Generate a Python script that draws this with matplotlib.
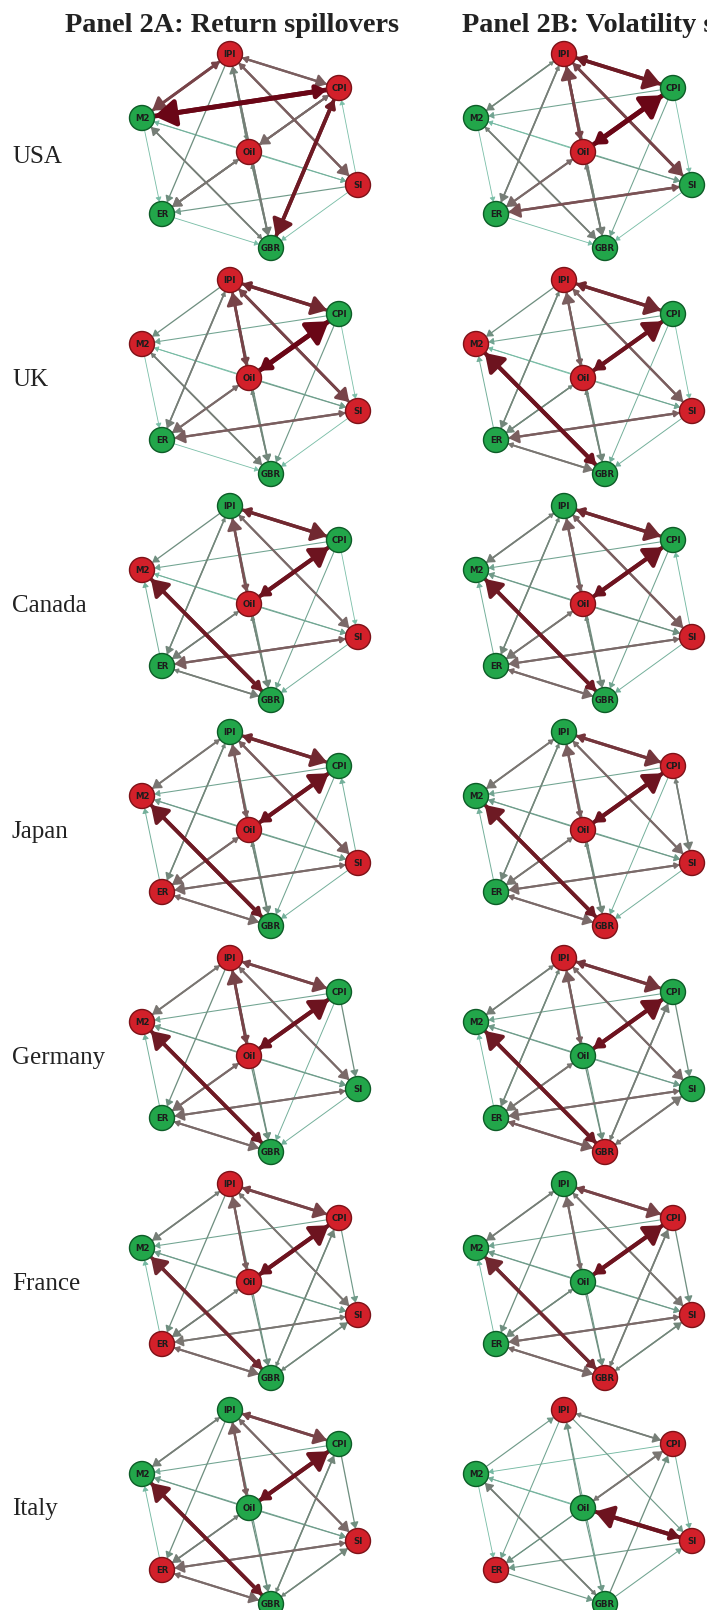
import numpy as np
import matplotlib
matplotlib.use('Agg')
import matplotlib.pyplot as plt
from matplotlib.patches import Circle, FancyArrowPatch
from matplotlib.colors import LinearSegmentedColormap

countries = ['USA', 'UK', 'Canada', 'Japan', 'Germany', 'France', 'Italy']
nodes = ['IPI', 'CPI', 'M2', 'Oil', 'SI', 'ER', 'GBR']
pairs = [('IPI', 'CPI'), ('IPI', 'M2'), ('IPI', 'Oil'), ('IPI', 'SI'), ('IPI', 'ER'),
         ('IPI', 'GBR'), ('CPI', 'M2'), ('CPI', 'Oil'), ('CPI', 'SI'), ('CPI', 'ER'),
         ('CPI', 'GBR'), ('M2', 'Oil'), ('M2', 'SI'), ('M2', 'ER'), ('M2', 'GBR'),
         ('Oil', 'SI'), ('Oil', 'ER'), ('Oil', 'GBR'), ('SI', 'ER'), ('SI', 'GBR'),
         ('ER', 'GBR')]

# node colour per variable (order as in nodes): r = net transmitter, g = net receiver
ret_nodes = {'USA': 'rrgrrgg', 'UK': 'rgrrrgg', 'Canada': 'ggrrrgg', 'Japan': 'ggrrrrg',
             'Germany': 'rgrrggg', 'France': 'rrgrrrg', 'Italy': 'ggggrrg'}
vol_nodes = {'USA': 'rggrggg', 'UK': 'rgrrrgg', 'Canada': 'gggrrgg', 'Japan': 'grgrrgr',
             'Germany': 'rgggggr', 'France': 'grggrgr', 'Italy': 'rrggrrg'}

# pairwise spillover strength, order as in pairs; sign gives direction (+ first -> second)
ret_edges = {
    'USA':     [0.6, 0.7, -0.4, 0.6, 0.35, 0.45, 1.0, 0.55, -0.1, 0.5, 0.85,
                -0.15, 0.2, 0.12, -0.45, 0.15, 0.5, 0.4, 0.3, 0.12, 0.12],
    'UK':      [0.8, 0.35, -0.7, 0.7, 0.45, 0.35, 0.25, -1.0, 0.1, 0.2, 0.3,
                -0.12, 0.15, 0.1, 0.45, 0.3, 0.55, 0.4, 0.6, 0.12, 0.1],
    'Canada':  [0.8, 0.35, -0.65, 0.55, 0.4, 0.35, 0.25, -0.9, 0.1, 0.2, 0.25,
                -0.15, 0.2, -0.2, -0.85, 0.25, 0.45, 0.4, 0.6, 0.2, 0.45],
    'Japan':   [0.8, 0.5, -0.6, 0.6, 0.4, 0.35, 0.25, -0.9, -0.2, 0.2, 0.25,
                -0.3, 0.2, -0.2, -0.85, 0.3, 0.55, 0.4, 0.55, 0.2, 0.55],
    'Germany': [0.7, 0.5, -0.7, 0.55, 0.35, 0.35, 0.25, -0.9, 0.35, 0.2, 0.2,
                -0.3, 0.2, -0.2, -0.85, 0.3, 0.55, 0.35, 0.55, 0.2, 0.55],
    'France':  [0.7, 0.45, -0.6, 0.5, 0.35, 0.3, 0.25, -0.9, 0.3, 0.2, -0.4,
                -0.3, 0.2, -0.15, -0.8, 0.3, 0.45, 0.35, 0.5, -0.4, 0.55],
    'Italy':   [0.7, 0.45, -0.6, 0.55, 0.35, 0.3, 0.25, -0.9, 0.35, 0.2, -0.4,
                -0.3, 0.2, -0.15, -0.85, 0.3, 0.45, 0.35, 0.55, -0.4, 0.55],
}
vol_edges = {
    'USA':     [0.85, 0.4, -0.7, 0.7, 0.45, 0.4, 0.25, -1.0, 0.1, 0.2, 0.25,
                -0.12, 0.15, 0.1, 0.45, 0.3, 0.55, 0.45, 0.65, 0.12, 0.12],
    'UK':      [0.8, 0.35, -0.6, 0.6, 0.4, 0.35, 0.25, -0.9, 0.1, 0.2, 0.2,
                -0.12, 0.15, -0.2, -0.9, 0.25, 0.4, 0.4, 0.6, 0.2, 0.5],
    'Canada':  [0.8, 0.45, -0.6, 0.6, 0.4, 0.35, 0.25, -0.9, -0.15, 0.2, 0.25,
                -0.3, 0.2, -0.2, -0.85, 0.35, 0.5, 0.4, 0.55, 0.2, 0.55],
    'Japan':   [0.75, 0.5, -0.6, 0.55, 0.4, 0.35, 0.25, -0.9, 0.45, 0.2, 0.2,
                -0.3, 0.2, -0.2, -0.85, 0.3, 0.5, 0.4, 0.55, 0.2, 0.55],
    'Germany': [0.75, 0.45, -0.6, 0.55, 0.4, 0.3, 0.25, -0.9, 0.35, 0.2, -0.45,
                -0.3, 0.2, -0.15, -0.85, 0.3, 0.5, 0.35, 0.55, -0.5, 0.6],
    'France':  [0.7, 0.45, -0.55, 0.5, 0.35, 0.3, 0.25, -0.9, 0.35, 0.2, -0.45,
                -0.3, 0.2, -0.15, -0.8, 0.3, 0.4, 0.35, 0.55, -0.4, 0.55],
    'Italy':   [0.45, -0.3, -0.35, 0.3, 0.25, 0.25, 0.15, -0.5, 0.2, 0.2, -0.35,
                -0.2, 0.15, 0.12, -0.45, -0.9, 0.35, 0.3, 0.3, -0.25, 0.3],
}

# node placement relative to IPI (pixels)
layout = {'IPI': (0, 0), 'CPI': (109, 34), 'M2': (-88, 64), 'Oil': (19, 98),
          'SI': (128, 131), 'ER': (-68, 160), 'GBR': (41, 194)}

edge_cmap = LinearSegmentedColormap.from_list('spill', [
    (0.0, '#86cbb4'), (0.15, '#74b9a2'), (0.35, '#6f8f80'), (0.5, '#7a7672'),
    (0.65, '#7a5255'), (0.85, '#6e1a24'), (1.0, '#6a0616')])
fill = {'r': '#d2202a', 'g': '#22a64a'}
rim = {'r': '#7c1218', 'g': '#0d5c27'}
R = 12.5


def draw_net(ax, cx, cy, node_str, weights):
    pos = {n: (cx + dx, cy + dy) for n, (dx, dy) in layout.items()}
    shrink = R * 0.72
    # weak links first so the strong ones sit on top
    for k in np.argsort(np.abs(weights)):
        a, b = pairs[k]
        w = weights[k]
        s = abs(w)
        src, dst = (a, b) if w > 0 else (b, a)
        col = edge_cmap(s)
        lw = (0.8 + 4.0 * s ** 2) * 0.72
        hl = (3.5 + 14.0 * s ** 2) * 0.72
        hw = hl * 0.65
        if s >= 0.4:
            back = FancyArrowPatch(pos[dst], pos[src],
                                   arrowstyle=f'-|>,head_length={hl*0.45:.2f},head_width={hw*0.45:.2f}',
                                   color=col, lw=lw, shrinkA=shrink, shrinkB=shrink,
                                   mutation_scale=1, zorder=2)
            ax.add_patch(back)
        arr = FancyArrowPatch(pos[src], pos[dst],
                              arrowstyle=f'-|>,head_length={hl:.2f},head_width={hw:.2f}',
                              color=col, lw=lw, shrinkA=shrink, shrinkB=shrink,
                              mutation_scale=1, zorder=2)
        ax.add_patch(arr)
    for n, c in zip(nodes, node_str):
        ax.add_patch(Circle(pos[n], R, facecolor=fill[c], edgecolor=rim[c], lw=1.0, zorder=3))
        ax.text(pos[n][0], pos[n][1] + 0.5, n, ha='center', va='center', fontsize=6.2,
                fontweight='bold', color='#1c1c1c', zorder=4)


fig = plt.figure(figsize=(7.07, 16.10), dpi=100)
ax = fig.add_axes([0, 0, 1, 1])
ax.set_xlim(0, 707)
ax.set_ylim(1610, 0)
ax.axis('off')

ax.text(232, 25, 'Panel 2A: Return spillovers', ha='center', va='center',
        fontsize=20.3, fontweight='bold', family='Liberation Serif', color='#222222')
ax.text(462, 25, 'Panel 2B: Volatility spillovers', ha='left', va='center',
        fontsize=20.3, fontweight='bold', family='Liberation Serif', color='#222222')

row_top = [54, 280, 506, 732, 958, 1184, 1410]
label_y = [157, 380, 606, 832, 1058, 1284, 1509]

for i, c in enumerate(countries):
    ax.text(12, label_y[i], c, ha='left', va='center', fontsize=18,
            family='Liberation Serif', color='#222222')
    draw_net(ax, 230, row_top[i], ret_nodes[c], ret_edges[c])
    draw_net(ax, 564, row_top[i], vol_nodes[c], vol_edges[c])

fig.savefig('out.png', dpi=100)
